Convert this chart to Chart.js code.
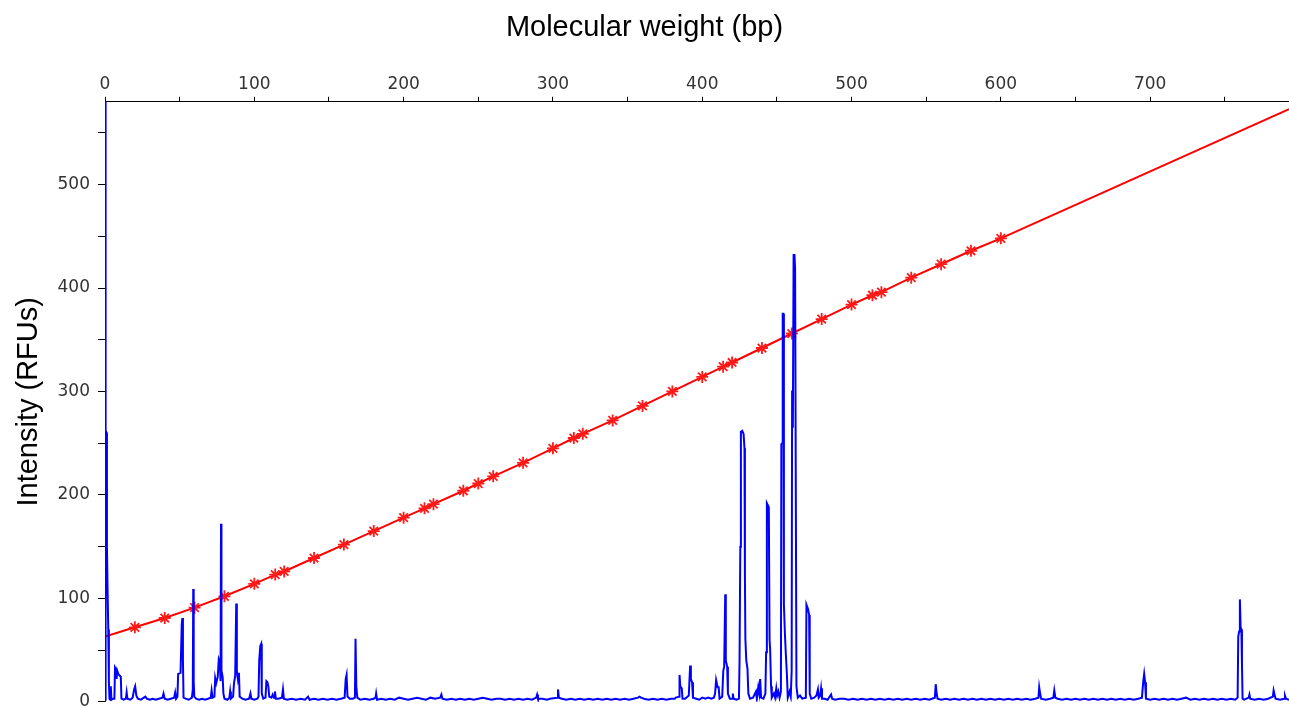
<!DOCTYPE html>
<html>
<head>
<meta charset="utf-8">
<script src="https://cdn.jsdelivr.net/npm/chart.js@4.4.1/dist/chart.umd.min.js"></script>
<style>
  html, body { margin: 0; padding: 0; background: #fff; overflow: hidden; }
  #wrap { width: 1289px; height: 707px; overflow: hidden; }
</style>
</head>
<body>
<div id="wrap"><canvas id="chart" width="1289" height="720"></canvas></div>
<script>
// size standard calibration curve (red), bp vs RFU
const fitSize = [0, 0, 20, 40, 60, 80, 100, 114, 120, 140, 160, 180, 200, 214, 220, 240, 250, 260, 280, 300,
  314, 320, 340, 360, 380, 400, 414, 420, 440, 460, 480, 500, 514, 520, 540, 560, 580, 600, 793];
const fitRfu = [0, 63, 72, 81, 91, 102, 114, 123, 126, 139, 152, 165, 178, 187, 191, 204, 211, 218, 231, 245,
  255, 259, 272, 286, 300, 314, 324, 328, 342, 356, 370, 384, 393, 396, 410, 423, 436, 448, 573];

// electropherogram trace (blue)
const blueSize = [
  0, 0.15, 0.5, 0.6, 1.1, 1.3, 1.7, 2.2, 2.6, 3.0,
  3.5, 3.9, 4.3, 5.5, 6.3, 6.7, 7.4, 7.8, 8.2, 8.9,
  9.4, 10.0, 10.6, 11.0, 12.5, 14.0, 14.5, 15.0, 17, 18.5,
  19.5, 20.2, 21.0, 22, 24, 26, 27, 28, 30, 32,
  34, 36, 38.5, 39.2, 40, 42, 44, 46.3, 47, 47.6,
  48.5, 49.0, 50.6, 51.4, 51.8, 52.2, 52.6, 54, 56, 58.2,
  58.8, 59.1, 59.4, 59.8, 61, 63, 65, 67, 69, 70.8,
  71.4, 72, 73.3, 73.8, 74.5, 75.5, 76.2, 76.9, 77.4, 77.7,
  78.0, 78.8, 79.3, 80, 82, 83.3, 83.8, 84.3, 85.8, 86.4,
  87.2, 87.9, 88.3, 89.0, 89.7, 90.2, 92, 94, 96.5, 97.4,
  98, 100, 102, 102.8, 103.3, 104.0, 104.6, 105.0, 106, 107.5,
  108.1, 108.8, 109.4, 110, 111.5, 112.3, 113.2, 113.8, 114.4, 116,
  118.5, 119.2, 119.8, 122, 125, 128, 131, 134, 136, 137,
  140, 143, 146, 149, 152, 155, 158, 160.5, 161.2, 161.8,
  162.4, 164, 166, 167.4, 167.8, 168.3, 169, 171, 174, 177,
  180, 181.2, 181.6, 182.2, 185, 188, 191, 194, 197, 200,
  203, 206, 209, 212, 215, 218, 221, 224.5, 225.3, 226,
  229, 232, 235, 238, 241, 244, 247, 250, 253, 256,
  259, 262, 265, 268, 271, 274, 277, 280, 283, 286,
  288.8, 289.4, 290, 293, 296, 298, 302.8, 303.4, 304, 306,
  309, 312, 315, 318, 321, 324, 327, 330, 333, 336,
  339, 342, 345, 348, 351, 354, 357, 358, 359, 361,
  364, 367, 370, 373, 376, 379, 381.5, 382.3, 384.5, 384.8,
  385.3, 386.3, 386.8, 388.5, 391, 391.9, 392.4, 393.2, 393.8, 396,
  398, 400, 402, 404, 406, 407.8, 408.6, 409.3, 410.3, 411,
  411.6, 413.4, 414.1, 414.7, 415.4, 415.8, 416.7, 417.2, 418.5, 420,
  420.5, 421, 423, 424.6, 425.0, 425.5, 425.9, 426.8, 427.7, 428.3,
  428.6, 428.9, 429.5, 430.3, 430.9, 432, 434, 436, 436.6, 437.5,
  438.2, 438.8, 439.4, 441, 442.3, 442.8, 443.3, 444.6, 445.1, 445.5,
  446.1, 446.6, 448, 448.8, 449.6, 450.2, 451, 451.8, 452.7, 453.0,
  453.6, 453.9, 454.3, 454.7, 455.4, 456, 456.7, 457.3, 458.5, 459.3,
  459.9, 460.2, 460.7, 461.2, 461.8, 462.2, 462.8, 463.1, 464, 465.5,
  467, 469.4, 469.8, 470.8, 471.6, 472, 473, 475, 476.5, 477.5,
  478, 479, 479.6, 480.2, 482, 484, 486.3, 487, 489, 492,
  495, 498, 501, 504, 507, 510, 513, 516, 519, 522,
  525, 528, 531, 534, 537, 540, 543, 546, 549, 552,
  555.8, 556.4, 557, 557.6, 560, 563, 566, 569, 572, 575,
  578, 581, 584, 587, 590, 593, 596, 599, 602, 605,
  608, 611, 614, 617, 620, 623, 625.2, 625.7, 626.3, 627,
  630, 633, 635.2, 635.8, 636.5, 638, 641, 644, 647, 650,
  653, 656, 659, 662, 665, 668, 671, 674, 677, 680,
  683, 686, 689, 692, 694.5, 695.4, 696.0, 696.6, 697.2, 700,
  703, 706, 709, 712, 715, 718, 721, 724, 727, 730,
  733, 736, 739, 742, 745, 748, 751, 754, 757, 758.6,
  759.0, 759.6, 760.1, 760.6, 761.1, 761.5, 761.9, 763, 766, 766.5,
  767, 770, 773, 776, 779, 782.2, 782.7, 783.3, 784, 787,
  789.8, 790.3, 791, 793
];
const blueRfu = [
  2, 600, 600, 262, 260, 150, 110, 70, 20, 3,
  2, 15, 2, 3, 3, 33, 31, 22, 30, 27,
  26, 25, 24, 3, 2, 3, 9, 3, 2, 4,
  12, 15, 6, 3, 2, 4, 5, 3, 2, 3,
  2, 3, 4, 8, 3, 2, 3, 4, 9, 3,
  5, 27, 28, 75, 81, 40, 4, 3, 2, 4,
  12, 109, 20, 5, 3, 2, 3, 2, 3, 4,
  11, 4, 5, 23, 18, 24, 41, 38, 20, 172,
  30, 24, 8, 3, 2, 4, 10, 3, 5, 18,
  25, 95, 30, 22, 28, 5, 3, 2, 3, 8,
  3, 2, 3, 5, 40, 54, 56, 8, 3, 4,
  20, 19, 15, 5, 4, 7, 4, 10, 3, 3,
  4, 12, 3, 2, 3, 2, 3, 2, 5, 2,
  3, 2, 3, 2, 3, 2, 3, 4, 22, 26,
  5, 3, 3, 4, 61, 15, 4, 2, 3, 2,
  3, 4, 8, 2, 3, 2, 3, 2, 4, 3,
  2, 3, 4, 3, 2, 4, 3, 4, 7, 3,
  2, 3, 2, 3, 2, 3, 2, 3, 4, 3,
  2, 3, 3, 2, 3, 2, 3, 2, 3, 2,
  4, 7, 3, 3, 2, 3, 4, 12, 4, 3,
  2, 3, 2, 3, 2, 3, 2, 3, 2, 3,
  2, 3, 2, 3, 2, 3, 4, 5, 4, 3,
  2, 3, 2, 3, 2, 3, 3, 4, 5, 26,
  15, 13, 3, 3, 6, 35, 22, 19, 4, 3,
  2, 4, 3, 4, 3, 4, 8, 21, 14, 14,
  3, 5, 30, 34, 104, 40, 34, 8, 3, 3,
  8, 3, 2, 3, 40, 150, 261, 262, 259, 245,
  120, 61, 40, 32, 8, 3, 4, 10, 3, 14,
  8, 22, 4, 3, 8, 48, 192, 188, 60, 50,
  15, 4, 8, 4, 13, 6, 10, 4, 10, 249,
  250, 375, 375, 94, 65, 46, 27, 4, 10, 5,
  30, 301, 265, 432, 432, 419, 419, 15, 4, 6,
  3, 4, 94, 90, 84, 8, 3, 4, 6, 12,
  4, 6, 13, 3, 3, 2, 7, 3, 2, 3,
  3, 2, 3, 2, 3, 2, 3, 2, 3, 2,
  3, 2, 3, 2, 3, 2, 3, 2, 3, 2,
  4, 17, 8, 3, 2, 3, 2, 3, 2, 3,
  2, 3, 2, 3, 2, 3, 2, 3, 2, 3,
  2, 3, 2, 3, 2, 3, 4, 14, 8, 3,
  2, 3, 4, 11, 4, 3, 2, 3, 2, 3,
  2, 3, 2, 3, 2, 3, 2, 3, 2, 3,
  2, 3, 2, 3, 4, 20, 27, 19, 3, 2,
  3, 2, 3, 2, 3, 2, 3, 4, 2, 3,
  2, 3, 2, 3, 2, 3, 2, 3, 2, 4,
  63, 68, 99, 72, 70, 36, 3, 2, 4, 7,
  3, 2, 3, 2, 3, 5, 11, 7, 3, 2,
  3, 6, 3, 2
];

const xMax = 793;
const yMax = 580;

const fitPoints = fitSize.map((s, i) => ({ x: s, y: fitRfu[i] }));
const bluePoints = blueSize.map((s, i) => ({ x: s, y: blueRfu[i] }));

const tickFont = { family: "DejaVu Sans", size: 17 };

const ctx = document.getElementById("chart").getContext("2d");
const myChart = new Chart(ctx, {
  type: "line",
  data: {
    datasets: [
      {
        label: "Signal",
        data: bluePoints,
        borderColor: "#0000ff",
        borderWidth: 2,
        pointRadius: 0,
        tension: 0,
      },
      {
        label: "Size standard",
        data: fitPoints,
        borderColor: "#ff0000",
        backgroundColor: "#ff0000",
        borderWidth: 2,
        pointStyle: "star",
        pointBorderColor: "#ff1a1a",
        pointBorderWidth: 1.8,
        // no marker on the curve ends
        pointRadius: (c) => (c.dataIndex < 2 || c.dataIndex === fitSize.length - 1 ? 0 : 6),
        tension: 0,
      },
    ],
  },
  options: {
    responsive: false,
    animation: false,
    layout: { padding: 0 },
    plugins: {
      legend: { display: false },
      tooltip: { enabled: false },
      title: {
        display: true,
        text: "Molecular weight (bp)",
        color: "#000",
        font: { family: "Liberation Sans", size: 29, weight: "normal" },
        padding: { top: 11, bottom: 0 },
      },
    },
    scales: {
      x: {
        type: "linear",
        position: "top",
        min: 0,
        max: xMax,
        afterBuildTicks: (scale) => {
          scale.ticks = scale.ticks.filter((t) => t.value % 50 === 0);
        },
        afterFit: (scale) => {
          scale.height = 56;
        },
        ticks: {
          stepSize: 50,
          autoSkip: false,
          maxRotation: 0,
          padding: 2,
          color: "#333",
          font: tickFont,
          callback: (v) => (v % 100 === 0 ? v : ""),
        },
        grid: {
          drawOnChartArea: false,
          tickLength: 5,
          tickColor: "#000",
        },
        border: { display: true, color: "#000", width: 1 },
      },
      y: {
        min: 0,
        max: yMax,
        afterBuildTicks: (scale) => {
          scale.ticks = scale.ticks.filter((t) => t.value % 50 === 0);
        },
        afterFit: (scale) => {
          scale.width = 105;
        },
        title: {
          display: true,
          text: "Intensity (RFUs)",
          color: "#000",
          font: { family: "Liberation Sans", size: 29 },
          padding: { top: 12, bottom: 0 },
        },
        ticks: {
          stepSize: 50,
          autoSkip: false,
          padding: 8,
          color: "#333",
          font: tickFont,
          callback: (v) => (v % 100 === 0 ? v : ""),
        },
        grid: {
          drawOnChartArea: false,
          tickLength: 7,
          tickColor: "#000",
        },
        border: { display: true, color: "#000", width: 1 },
      },
    },
  },
});
</script>
</body>
</html>
